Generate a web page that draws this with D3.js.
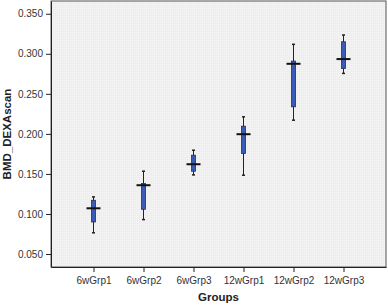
<!DOCTYPE html>
<html>
<head>
<meta charset="utf-8">
<script src="https://cdn.jsdelivr.net/npm/d3@7"></script>
<style>
  body { margin: 0; background: #fff; }
  text { font-family: "Liberation Sans", Arial, sans-serif; }
</style>
</head>
<body>
<div id="chart"></div>
<script>
// groups and box stats
var groups = ['6wGrp1', '6wGrp2', '6wGrp3', '12wGrp1', '12wGrp2', '12wGrp3'];
var whiskerLow  = [0.0765, 0.0930, 0.1488, 0.1484, 0.2171, 0.2755];
var q1          = [0.0900, 0.1059, 0.1534, 0.1755, 0.2338, 0.2817];
var medians     = [0.1071, 0.1359, 0.1621, 0.1996, 0.2875, 0.2934];
var q3          = [0.1171, 0.1380, 0.1734, 0.2096, 0.2909, 0.3150];
var whiskerHigh = [0.1213, 0.1534, 0.1796, 0.2213, 0.3118, 0.3234];
var yTicks = [0.050, 0.100, 0.150, 0.200, 0.250, 0.300, 0.350];

var margin = {top: 1, right: 2, bottom: 38, left: 51},
	width = 388 - margin.left - margin.right,
	height = 305 - margin.top - margin.bottom;

var svg = d3.select('#chart')
	.append('svg')
	.attr('width', 388)
	.attr('height', 305);

// faint dotted grey background like the SPSS plot area
var defs = svg.append('defs');
var pat = defs.append('pattern')
	.attr('id', 'dots')
	.attr('width', 2).attr('height', 2)
	.attr('patternUnits', 'userSpaceOnUse');
pat.append('rect').attr('width', 2).attr('height', 2).attr('fill', '#f2f2f2');
pat.append('rect').attr('width', 1).attr('height', 1).attr('fill', '#eaeaea');

var g = svg.append('g')
	.attr('transform', 'translate(' + margin.left + ',' + margin.top + ')');

var x = d3.scalePoint()
	.domain(groups)
	.range([0, width])
	.padding(0.85);

var y = d3.scaleLinear()
	.domain([0.0338, 0.3659])
	.range([height, 0]);

g.append('rect')
	.attr('width', width)
	.attr('height', height)
	.attr('fill', 'url(#dots)')
	.attr('stroke', '#555')
	.attr('stroke-width', 1);

// y axis
var yAxis = g.append('g')
	.call(d3.axisLeft(y).tickValues(yTicks).tickFormat(d3.format('.3f')).tickSize(5).tickSizeOuter(0));
yAxis.select('.domain').attr('stroke', '#222');
yAxis.selectAll('.tick line').attr('stroke', '#222');
yAxis.selectAll('.tick text').attr('font-size', 10).attr('fill', '#333').attr('x', -8);

// x axis
var xAxis = g.append('g')
	.attr('transform', 'translate(0,' + height + ')')
	.call(d3.axisBottom(x).tickSize(5).tickSizeOuter(0));
xAxis.select('.domain').attr('stroke', '#222');
xAxis.selectAll('.tick line').attr('stroke', '#222');
xAxis.selectAll('.tick text').attr('font-size', 10).attr('fill', '#333').attr('dy', '0.9em');

var boxes = g.selectAll('.box')
	.data(groups)
	.enter().append('g')
	.attr('class', 'box')
	.attr('transform', function (d) { return 'translate(' + x(d) + ',0)'; });

// whiskers
boxes.append('line')
	.attr('y1', function (d, i) { return y(whiskerLow[i]); })
	.attr('y2', function (d, i) { return y(whiskerHigh[i]); })
	.attr('stroke', '#222').attr('stroke-width', 1);
boxes.append('line')
	.attr('x1', -1.5).attr('x2', 1.5)
	.attr('y1', function (d, i) { return y(whiskerLow[i]); })
	.attr('y2', function (d, i) { return y(whiskerLow[i]); })
	.attr('stroke', '#222').attr('stroke-width', 1.5);
boxes.append('line')
	.attr('x1', -1.5).attr('x2', 1.5)
	.attr('y1', function (d, i) { return y(whiskerHigh[i]); })
	.attr('y2', function (d, i) { return y(whiskerHigh[i]); })
	.attr('stroke', '#222').attr('stroke-width', 1.5);

// box
boxes.append('rect')
	.attr('x', -2)
	.attr('width', 4)
	.attr('y', function (d, i) { return y(q3[i]); })
	.attr('height', function (d, i) { return y(q1[i]) - y(q3[i]); })
	.attr('fill', '#3a5bb8')
	.attr('stroke', '#2a2f4a')
	.attr('stroke-width', 0.8);

// median
boxes.append('line')
	.attr('x1', -7).attr('x2', 7)
	.attr('y1', function (d, i) { return y(medians[i]); })
	.attr('y2', function (d, i) { return y(medians[i]); })
	.attr('stroke', '#111').attr('stroke-width', 2);

// axis titles
svg.append('text')
	.attr('x', margin.left + width / 2)
	.attr('y', 301)
	.attr('text-anchor', 'middle')
	.attr('font-size', 11.5)
	.attr('font-weight', 'bold')
	.attr('fill', '#222')
	.text('Groups');

svg.append('text')
	.attr('transform', 'translate(11,' + (margin.top + height / 2) + ') rotate(-90)')
	.attr('text-anchor', 'middle')
	.attr('font-size', 11.5)
	.attr('font-weight', 'bold')
	.attr('fill', '#222')
	.text('BMD_DEXAscan');
</script>
</body>
</html>
